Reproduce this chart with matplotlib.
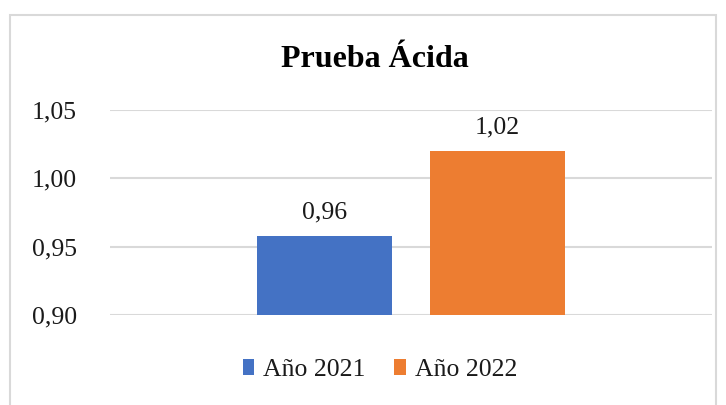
import matplotlib
matplotlib.use('Agg')
from matplotlib import pyplot as plt
from matplotlib.patches import Rectangle
from matplotlib.ticker import FuncFormatter

plt.rcParams['font.family'] = ['Liberation Serif', 'DejaVu Serif']

series = ['Año 2021', 'Año 2022']
values = [0.958, 1.02]
labels = ['0,96', '1,02']
colors = ['#4472C4', '#ED7D31']
y_ticks = [0.90, 0.95, 1.00, 1.05]

fig = plt.figure(figsize=(7.26, 4.05), dpi=100)
ax = fig.add_axes([110 / 726, 1 - 315 / 405, (712 - 110) / 726, (315 - 110) / 405])

# borde del gráfico
fig.patches.append(Rectangle((10 / 726, -0.1), (716 - 10) / 726, 1.1 - 15 / 405,
                             transform=fig.transFigure, fill=False,
                             edgecolor='#D9D9D9', linewidth=1.5))

offsets = [-0.1430, 0.1430]
width = 135 / 602
for off, val, lab, col, name in zip(offsets, values, labels, colors, series):
    ax.bar(off, val - 0.90, bottom=0.90, width=width, color=col, label=name, zorder=3)
    ax.text(off, val + 0.009, lab, ha='center', va='bottom', fontsize=18.5, color='#1a1a1a')

ax.set_xlim(-0.5, 0.5)
ax.set_ylim(0.90, 1.05)
ax.set_yticks(y_ticks)
ax.yaxis.set_major_formatter(FuncFormatter(lambda v, p: f'{v:.2f}'.replace('.', ',')))
ax.set_xticks([])
ax.grid(axis='y', color='#D9D9D9', linewidth=1.5, zorder=0)
for s in ax.spines.values():
    s.set_visible(False)
ax.tick_params(axis='y', length=0, labelsize=18.5, pad=24, labelcolor='#1a1a1a')

fig.text(375 / 726, 1 - 67 / 405, 'Prueba Ácida', ha='center', va='baseline',
         fontsize=23, fontweight='bold', color='black')

fig.legend(loc='center', bbox_to_anchor=(380 / 726, 1 - 370 / 405), ncol=2,
           frameon=False, fontsize=18.5, handlelength=0.45, handleheight=0.55,
           handletextpad=0.35, columnspacing=1.1, labelcolor='#1a1a1a')

fig.savefig('out.png', dpi=100)
